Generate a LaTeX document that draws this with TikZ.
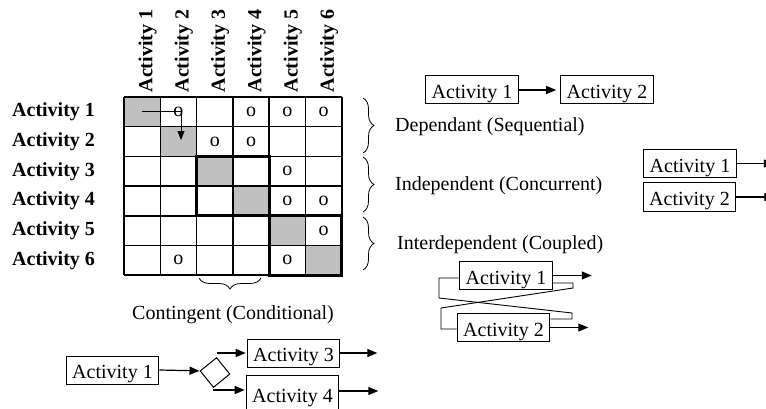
\documentclass[tikz,border=0pt]{standalone}
\usepackage{fontspec}
\setmainfont{Liberation Serif}
\usepackage{xcolor}
\definecolor{cellgray}{RGB}{192,192,192}
\usetikzlibrary{arrows.meta}
\usetikzlibrary{decorations.pathreplacing}
\tikzset{
	act/.style={draw, line width=1pt, inner xsep=6pt, inner ysep=2pt, minimum height=28pt,
		text height=17pt, text depth=0pt, font=\fontsize{20}{24}\selectfont},
	flow/.style={line width=1.2pt, -{Triangle[length=10pt,width=8pt]}},
	hdr/.style={font=\fontsize{20}{24}\selectfont\bfseries},
	lbl/.style={font=\fontsize{20}{24}\selectfont},
	brc/.style={decorate, decoration={brace, amplitude=11pt}, line width=0.8pt},
}

\begin{document}
\begin{tikzpicture}[x=1pt, y=-1pt]
	\useasboundingbox (0,0) rectangle (766,409);
	\clip (0,0) rectangle (766,409);

	% DSM
	\begin{scope}[shift={(124,97)}, x=36.3pt, y=-29.7pt]
		\foreach \i in {1,...,6}
			\fill[cellgray] (\i-1,\i-1) rectangle (\i,\i);
		\foreach \k in {0,...,6} {
			\draw[line width=1.6pt] (\k,0) -- (\k,6);
			\draw[line width=1.6pt] (0,\k) -- (6,\k);
		}
		\draw[line width=3.2pt] (2,2) rectangle (4,4);
		\draw[line width=3.2pt] (4,4) rectangle (6,6);

		% column headers
		\foreach \i in {1,...,6}
			\node[hdr, rotate=90, anchor=west, inner sep=0pt] (col\i) at (\i-0.35,-0.15) {Activity \i};

		% marks
		\foreach \r/\c in {1/2,1/4,1/5,1/6,2/3,2/4,3/5,4/5,4/6,5/6,6/2,6/5}
			\node[lbl, inner sep=0pt] (m\r\c) at (\c-0.5,\r-0.5) {o};

		\coordinate (s11) at (0.5,0.5);
		\coordinate (s22) at (1.57,1.45);
		\draw[line width=0.8pt, -{Triangle[length=9pt,width=7pt]}] (s11) -| (s22);
	\end{scope}

	% row headers
	\foreach \i in {1,...,6}
		\node[hdr, anchor=west, inner sep=0pt] (row\i) at (12,{82.15+29.7*\i}) {Activity \i};

	% braces
	\draw[brc] (363,98) -- (363,153);
	\draw[brc] (363,157) -- (363,212);
	\draw[brc] (363,217) -- (363,270);
	\draw[brc] (261,278) -- (199,278);

	\node[lbl, anchor=west, inner sep=0pt] (dep) at (395,127) {Dependant (Sequential)};
	\node[lbl, anchor=west, inner sep=0pt] (indep) at (395,186) {Independent (Concurrent)};
	\node[lbl, anchor=west, inner sep=0pt] (interdep) at (397,245) {Interdependent (Coupled)};
	\node[lbl, inner sep=0pt] (cont) at (233,315) {Contingent (Conditional)};

	% sequential
	\node[act] (seqA) at (472,90) {Activity 1};
	\node[act] (seqB) at (607,90) {Activity 2};
	\draw[flow, shorten >=4pt] (seqA) -- (seqB);

	% concurrent
	\node[act] (conA) at (690,163.5) {Activity 1};
	\node[act] (conB) at (689.5,197) {Activity 2};
	\draw[flow] (conA.east) -- ++(37,0);
	\draw[flow] (conB.east) -- ++(38,0);

	% coupled
	\node[act] (cplA) at (506,275.5) {Activity 1};
	\node[act] (cplB) at (503.5,327.5) {Activity 2};
	\draw[flow] (cplA.east) -- ++(39,0);
	\draw[flow] (cplB.east) -- ++(38,0);
	\draw[line width=0.9pt] ([yshift=-2.5pt]cplA.west) -| (439,298) -- (572,313) |- ([yshift=8.5pt]cplB.east);
	\draw[line width=0.9pt] ([yshift=-7.5pt]cplA.east) -| (573,288) -- (441,308) |- ([yshift=-1.5pt]cplB.west);

	% conditional
	\node[act] (cA1) at (112.5,370) {Activity 1};
	\node[draw, line width=1pt, minimum size=21pt, inner sep=0pt, rotate=39] (gate) at (215,372.5) {};
	\node[act] (cA3) at (293.5,353) {Activity 3};
	\node[act, minimum height=34pt, text height=20pt] (cA4) at (292.5,392) {Activity 4};
	\draw[flow] (cA1.east) -- (gate.north west);
	\draw[flow, shorten >=1pt] (gate.north east |- cA3.west) -- (cA3.west);
	\draw[flow, shorten >=1pt] (gate.south west |- 0,390) -- (cA4.west |- 0,390);
	\draw[flow] (cA3.east) -- ++(37,0);
	\draw[flow] (cA4.east |- 0,391) -- ++(39,0);

\end{tikzpicture}
\end{document}
